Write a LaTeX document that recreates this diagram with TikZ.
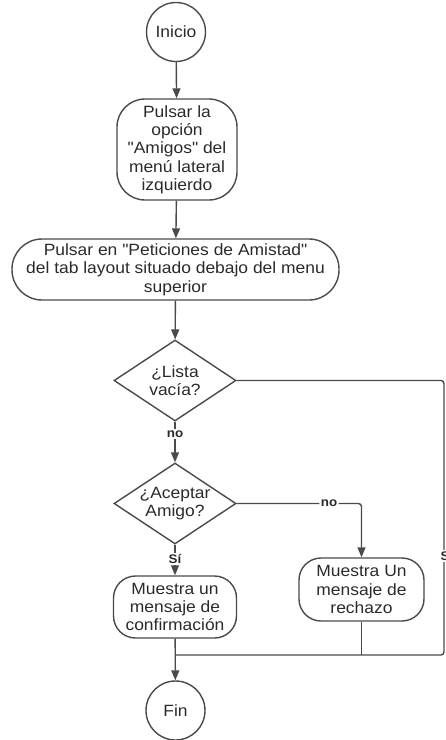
\documentclass[tikz,border=0pt]{standalone}
\usepackage{fontspec}
\setmainfont{Liberation Sans}[FakeStretch=1.07, Ligatures=TeXOff]
\usetikzlibrary{shapes.geometric,arrows.meta,calc}
\definecolor{linecol}{HTML}{4A4A4A}
\definecolor{txtcol}{HTML}{2A2A2A}
\newcommand\boxfont{\fontsize{16.3}{18.3}\selectfont}
\newcommand\tagfont{\bfseries\fontsize{12.5}{13}\selectfont}

\begin{document}
\begin{tikzpicture}[x=1pt,y=-1pt,
  conn/.style={draw=linecol, line width=1.4pt},
  arr/.style={conn, -{Triangle[length=10pt,width=8pt]}},
  term/.style={circle, draw=linecol, line width=1.4pt, minimum size=59pt,
    inner sep=0pt, font=\boxfont, text=txtcol},
  proc/.style={rectangle, draw=linecol, line width=1.4pt, align=center,
    inner sep=0pt, font=\boxfont, text=txtcol},
  dec/.style={diamond, draw=linecol, line width=1.4pt, minimum width=122pt,
    minimum height=81pt, inner sep=0pt},
  dectext/.style={font=\boxfont, text=txtcol, align=center, inner sep=0pt},
  tag/.style={fill=white, font=\tagfont, text=txtcol, inner sep=1.5pt}]

\useasboundingbox (0,0) rectangle (446,740);
\clip (0,0) rectangle (446,740);

% nodes
\node[term] (ini) at (176,32) {Inicio};
\node[proc, rounded corners=28pt, minimum width=120pt, minimum height=101pt]
  (amigos) at (177,149.5) {Pulsar la\\opción\\"Amigos" del\\menú lateral\\izquierdo};
\node[proc, rounded corners=30pt, minimum width=327pt, minimum height=61pt]
  (peti) at (175.5,269.5) {Pulsar en "Peticiones de Amistad"\\del tab layout situado debajo del menu\\superior};
\node[dec] (vacia) at (175,380.5) {};
\node[dectext] at (vacia.center) {¿Lista\\vacía?};
\node[dec] (acept) at (175,503.5) {};
\node[dectext] at (acept.center) {¿Aceptar\\Amigo?};
\node[proc, rounded corners=22pt, minimum width=123pt, minimum height=62pt]
  (conf) at (175,607) {Muestra un\\mensaje de\\confirmación};
\node[proc, rounded corners=22pt, minimum width=125pt, minimum height=63pt]
  (rech) at (361.5,589.5) {Muestra Un\\mensaje de\\rechazo};
\node[term] (fin) at (175.5,710.5) {Fin};

% routing points
\coordinate (rtop) at (444,380.5);
\coordinate (rbot) at (444,655);
\coordinate (mrg) at (175.5,655);
\coordinate (ntop) at (361.5,503.5);
\coordinate (rjoin) at (361.5,655);

% connectors
\draw[arr] (ini) -- (amigos);
\draw[arr] (amigos) -- (peti);
\draw[arr] (peti) -- (vacia);
\draw[arr] (vacia) -- node[tag, pos=0.3] {no} (acept);
\draw[arr, rounded corners=3pt] (acept.east) -- node[tag, pos=0.74] {no} (ntop) -- (rech.north);
\draw[arr] (acept) -- node[tag, pos=0.47] {Sí} (conf);
\draw[arr] (conf) -- (fin);
\draw[conn, rounded corners=3pt] (vacia.east) -- (rtop) -- (rbot) -- (mrg);
\draw[conn] (rech) -- (rjoin);
\node[tag, xshift=3pt] at ($(rtop)!0.64!(rbot)$) {Sí};
\end{tikzpicture}
\end{document}
